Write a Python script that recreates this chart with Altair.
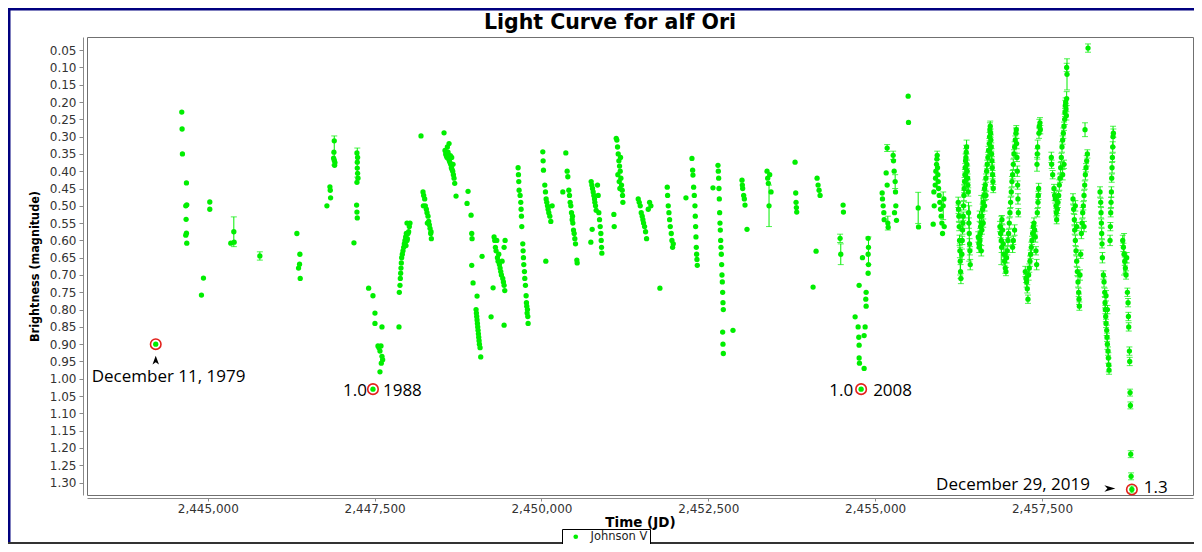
import altair as alt
import pandas as pd

# ---------------- data ----------------
TITLE = "Light Curve for alf Ori"
SERIES = "Johnson V"
X_TICKS = [2445000, 2447500, 2450000, 2452500, 2455000, 2457500]
Y_TICKS = [0.05, 0.10, 0.15, 0.20, 0.25, 0.30, 0.35, 0.40, 0.45, 0.50, 0.55, 0.60,
           0.65, 0.70, 0.75, 0.80, 0.85, 0.90, 0.95, 1.00, 1.05, 1.10, 1.15, 1.20,
           1.25, 1.30]

# (JD, magnitude) observations without visible error bars
S_1979_1985 = [
    (2444220, 0.900),
    (2444610, 0.229), (2444615, 0.278), (2444620, 0.350), (2444680, 0.434),
    (2444670, 0.500), (2444685, 0.497), (2444675, 0.539), (2444680, 0.579),
    (2444670, 0.585), (2444685, 0.608),
    (2444935, 0.709), (2444905, 0.758), (2445030, 0.489), (2445030, 0.510),
    (2445345, 0.608), (2445390, 0.575), (2445395, 0.605), (2445780, 0.645),
    (2446335, 0.580), (2446380, 0.640), (2446375, 0.669), (2446360, 0.680),
    (2446385, 0.710),
]
S_1986_1990 = [
    (2446785, 0.500), (2446830, 0.445), (2446835, 0.455), (2446840, 0.477),
    (2446895, 0.312), (2446890, 0.345), (2446895, 0.368), (2446900, 0.383),
    (2446905, 0.375), (2446885, 0.362),
    (2447190, 0.607), (2447235, 0.347), (2447240, 0.374), (2447240, 0.391),
    (2447245, 0.406), (2447235, 0.432), (2447245, 0.360), (2447250, 0.420),
    (2447230, 0.498), (2447235, 0.518), (2447240, 0.535),
    (2447410, 0.738), (2447475, 0.760), (2447505, 0.810), (2447505, 0.840),
    (2447610, 0.850), (2447550, 0.905), (2447565, 0.910), (2447580, 0.920),
    (2447595, 0.905), (2447610, 0.935), (2447620, 0.945), (2447600, 0.955),
    (2447580, 0.980), (2447475, 1.030),
    (2447865, 0.850), (2447870, 0.750), (2447880, 0.730), (2447885, 0.710),
    (2447890, 0.695), (2447895, 0.680), (2447900, 0.665), (2447905, 0.650),
    (2447915, 0.640), (2447925, 0.630), (2447935, 0.620), (2447945, 0.610),
    (2447955, 0.600), (2447965, 0.590), (2447975, 0.580), (2447990, 0.595),
    (2448000, 0.580), (2448010, 0.575), (2448020, 0.560), (2448030, 0.550),
    (2447960, 0.605), (2447970, 0.615), (2447985, 0.600), (2447985, 0.550),
]
S_1991_1994 = [
    (2448195, 0.298),
    (2448225, 0.460), (2448235, 0.470), (2448250, 0.480), (2448260, 0.500),
    (2448275, 0.510), (2448285, 0.520), (2448300, 0.530), (2448310, 0.545),
    (2448320, 0.555), (2448330, 0.565), (2448340, 0.580), (2448350, 0.595),
    (2448230, 0.500), (2448290, 0.550), (2448345, 0.575),
    (2448540, 0.289),
    (2448555, 0.340), (2448565, 0.350), (2448575, 0.355), (2448585, 0.360),
    (2448590, 0.330), (2448600, 0.345), (2448610, 0.365), (2448620, 0.370),
    (2448630, 0.375), (2448640, 0.380), (2448650, 0.390), (2448660, 0.395),
    (2448670, 0.400), (2448680, 0.410), (2448690, 0.420), (2448700, 0.435),
    (2448720, 0.472), (2448615, 0.320), (2448635, 0.355), (2448655, 0.360),
    (2448675, 0.380),
    (2448900, 0.458), (2448885, 0.493), (2448945, 0.527), (2448955, 0.580),
    (2448960, 0.595), (2448955, 0.672), (2448975, 0.723), (2449035, 0.761),
    (2449020, 0.800), (2449025, 0.810), (2449030, 0.820), (2449035, 0.830),
    (2449040, 0.840), (2449045, 0.850), (2449050, 0.860), (2449055, 0.870),
    (2449060, 0.880), (2449065, 0.890), (2449070, 0.900), (2449080, 0.910),
    (2449090, 0.937), (2449110, 0.646), (2449245, 0.821),
    (2449290, 0.590), (2449300, 0.600), (2449310, 0.620), (2449320, 0.630),
    (2449330, 0.600), (2449340, 0.650), (2449350, 0.660), (2449360, 0.640),
    (2449370, 0.670), (2449380, 0.680), (2449390, 0.690), (2449400, 0.700),
    (2449410, 0.660), (2449420, 0.710), (2449430, 0.720), (2449440, 0.730),
    (2449450, 0.745), (2449275, 0.737), (2449440, 0.620), (2449455, 0.600),
    (2449440, 0.845),
]
S_1994_1999 = [
    (2449650, 0.390), (2449655, 0.410), (2449660, 0.430), (2449665, 0.455),
    (2449680, 0.470), (2449690, 0.490), (2449695, 0.510), (2449700, 0.530),
    (2449705, 0.560), (2449720, 0.610), (2449725, 0.630), (2449730, 0.650),
    (2449735, 0.670), (2449745, 0.690), (2449750, 0.710), (2449760, 0.730),
    (2449770, 0.760), (2449775, 0.780), (2449780, 0.790), (2449790, 0.800),
    (2449795, 0.820), (2449800, 0.840), (2449785, 0.810),
    (2450020, 0.344), (2450025, 0.370), (2450030, 0.397), (2450050, 0.440),
    (2450060, 0.460), (2450070, 0.480), (2450080, 0.490), (2450090, 0.500),
    (2450100, 0.510), (2450110, 0.520), (2450125, 0.530), (2450140, 0.545),
    (2450160, 0.500), (2450065, 0.660),
    (2450365, 0.347), (2450385, 0.400), (2450395, 0.416), (2450320, 0.460),
    (2450410, 0.455), (2450420, 0.470), (2450430, 0.490), (2450440, 0.500),
    (2450450, 0.520), (2450460, 0.540), (2450470, 0.550), (2450480, 0.570),
    (2450490, 0.580), (2450500, 0.595), (2450510, 0.610), (2450530, 0.657),
    (2450535, 0.665), (2450465, 0.530),
    (2450745, 0.430), (2450755, 0.440), (2450765, 0.450), (2450775, 0.460),
    (2450785, 0.470), (2450795, 0.480), (2450800, 0.490), (2450810, 0.500),
    (2450820, 0.513), (2450760, 0.568), (2450740, 0.605), (2450860, 0.520),
    (2450870, 0.540), (2450880, 0.560), (2450890, 0.580), (2450895, 0.600),
    (2450900, 0.620), (2450905, 0.637), (2450850, 0.470), (2450840, 0.440),
    (2451085, 0.525), (2451090, 0.560), (2451120, 0.305), (2451130, 0.310),
    (2451140, 0.330), (2451150, 0.350), (2451160, 0.370), (2451170, 0.385),
    (2451180, 0.400), (2451190, 0.420), (2451200, 0.440), (2451210, 0.455),
    (2451215, 0.470), (2451220, 0.490), (2451145, 0.410), (2451165, 0.430),
    (2451185, 0.360), (2451175, 0.450),
]
S_2000_2006 = [
    (2451450, 0.480), (2451465, 0.490), (2451480, 0.500), (2451495, 0.520),
    (2451510, 0.530), (2451520, 0.540), (2451530, 0.550), (2451545, 0.560),
    (2451560, 0.575), (2451575, 0.595), (2451600, 0.510), (2451620, 0.490),
    (2451640, 0.500), (2451775, 0.738),
    (2451885, 0.446), (2451890, 0.470), (2451900, 0.500), (2451910, 0.520),
    (2451920, 0.540), (2451930, 0.560), (2451945, 0.580), (2451955, 0.600),
    (2451965, 0.620), (2451975, 0.610),
    (2452165, 0.477), (2452255, 0.363), (2452265, 0.397), (2452270, 0.411),
    (2452280, 0.446), (2452290, 0.470), (2452300, 0.500), (2452305, 0.530),
    (2452310, 0.560), (2452315, 0.590), (2452320, 0.620), (2452325, 0.640),
    (2452330, 0.655), (2452335, 0.672),
    (2452570, 0.448), (2452645, 0.383), (2452650, 0.400), (2452655, 0.420),
    (2452660, 0.450), (2452665, 0.480), (2452670, 0.520), (2452675, 0.550),
    (2452680, 0.570), (2452685, 0.600), (2452690, 0.620), (2452695, 0.640),
    (2452700, 0.670), (2452705, 0.700), (2452710, 0.720), (2452715, 0.750),
    (2452720, 0.780), (2452725, 0.800), (2452715, 0.865), (2452720, 0.900),
    (2452725, 0.927), (2452870, 0.860),
    (2453005, 0.426), (2453010, 0.440), (2453015, 0.450), (2453030, 0.470),
    (2453040, 0.480), (2453050, 0.498), (2453080, 0.568),
    (2453380, 0.400), (2453390, 0.420), (2453400, 0.435), (2453420, 0.410),
    (2453440, 0.460), (2453410, 0.500),
    (2453800, 0.374), (2453810, 0.463), (2453815, 0.490), (2453820, 0.505),
    (2453825, 0.518),
]
S_2007_2012 = [
    (2454130, 0.420), (2454145, 0.440), (2454160, 0.455), (2454175, 0.470),
    (2454115, 0.631), (2454070, 0.735),
    (2454520, 0.498), (2454525, 0.518), (2454475, 0.594), (2454485, 0.640),
    (2454700, 0.821), (2454745, 0.850), (2454755, 0.880), (2454760, 0.730),
    (2454760, 0.903), (2454760, 0.940), (2454765, 0.955), (2454835, 0.970),
    (2454850, 0.850), (2454835, 0.875), (2454865, 0.750), (2454860, 0.770),
    (2454865, 0.790), (2454895, 0.594), (2454900, 0.620), (2454895, 0.640),
    (2454810, 0.650), (2454900, 0.670), (2454895, 0.695), (2454790, 1.030),
    (2455105, 0.463), (2455110, 0.480), (2455120, 0.500), (2455130, 0.520),
    (2455135, 0.540), (2455180, 0.333), (2455165, 0.405), (2455180, 0.440),
    (2455190, 0.550), (2455195, 0.562), (2455270, 0.354), (2455275, 0.370),
    (2455285, 0.400), (2455300, 0.430), (2455305, 0.460), (2455310, 0.500),
    (2455320, 0.542), (2455290, 0.520),
    (2455495, 0.183), (2455500, 0.259), (2455645, 0.506), (2455650, 0.561),
    (2455870, 0.553), (2455880, 0.460), (2455885, 0.500), (2455900, 0.440),
    (2455905, 0.420), (2455910, 0.400), (2455920, 0.380), (2455925, 0.365),
    (2455930, 0.354), (2455935, 0.390), (2455940, 0.410), (2455945, 0.430),
    (2455950, 0.450), (2455960, 0.470), (2455970, 0.490), (2455980, 0.510),
    (2455990, 0.530), (2456000, 0.550), (2456010, 0.580), (2456020, 0.500),
    (2456030, 0.480), (2456035, 0.560),
]

# (JD, magnitude, error) dense recent seasons, each with small error bars
S_2013_2015 = [
    (2456245, 0.49, 0.015), (2456250, 0.51, 0.012), (2456255, 0.53, 0.015),
    (2456260, 0.56, 0.012), (2456265, 0.60, 0.015), (2456270, 0.63, 0.020),
    (2456275, 0.66, 0.040), (2456280, 0.69, 0.020), (2456285, 0.71, 0.015),
    (2456300, 0.64, 0.015), (2456305, 0.60, 0.012), (2456310, 0.57, 0.012),
    (2456315, 0.55, 0.015), (2456320, 0.53, 0.012), (2456325, 0.50, 0.012),
    (2456330, 0.47, 0.015), (2456335, 0.45, 0.012), (2456340, 0.43, 0.012),
    (2456345, 0.41, 0.015), (2456350, 0.39, 0.012), (2456355, 0.37, 0.020),
    (2456360, 0.36, 0.025), (2456365, 0.345, 0.020), (2456370, 0.33, 0.020),
    (2456375, 0.38, 0.012), (2456380, 0.40, 0.015), (2456385, 0.42, 0.012),
    (2456390, 0.44, 0.015), (2456395, 0.46, 0.012), (2456400, 0.52, 0.030),
    (2456405, 0.55, 0.015), (2456410, 0.58, 0.080), (2456415, 0.61, 0.015),
    (2456420, 0.63, 0.012), (2456425, 0.67, 0.015),
    (2456545, 0.59, 0.015), (2456555, 0.61, 0.012), (2456560, 0.62, 0.015),
    (2456570, 0.60, 0.012), (2456575, 0.58, 0.015), (2456580, 0.56, 0.012),
    (2456590, 0.55, 0.080), (2456600, 0.53, 0.012), (2456610, 0.51, 0.015),
    (2456620, 0.49, 0.012), (2456630, 0.47, 0.015), (2456640, 0.45, 0.012),
    (2456650, 0.44, 0.015), (2456660, 0.42, 0.012), (2456670, 0.40, 0.015),
    (2456680, 0.38, 0.012), (2456690, 0.36, 0.015), (2456700, 0.34, 0.012),
    (2456710, 0.32, 0.015), (2456715, 0.30, 0.012), (2456720, 0.28, 0.020),
    (2456725, 0.27, 0.015), (2456730, 0.29, 0.012), (2456735, 0.31, 0.015),
    (2456740, 0.33, 0.012), (2456745, 0.35, 0.015), (2456750, 0.37, 0.012),
    (2456755, 0.39, 0.015), (2456760, 0.41, 0.012), (2456765, 0.43, 0.015),
    (2456770, 0.45, 0.012), (2456590, 0.63, 0.015), (2456600, 0.57, 0.012),
    (2456565, 0.53, 0.015), (2456620, 0.55, 0.012), (2456640, 0.50, 0.015),
    (2456660, 0.47, 0.012),
    (2456870, 0.56, 0.015), (2456880, 0.58, 0.012), (2456890, 0.60, 0.070),
    (2456895, 0.62, 0.015), (2456900, 0.54, 0.012), (2456910, 0.57, 0.015),
    (2456920, 0.61, 0.012), (2456930, 0.64, 0.015), (2456940, 0.66, 0.012),
    (2456950, 0.68, 0.015), (2456960, 0.69, 0.012), (2456970, 0.65, 0.015),
    (2456980, 0.63, 0.012), (2456990, 0.60, 0.015), (2457000, 0.58, 0.012),
    (2457010, 0.55, 0.015), (2457020, 0.52, 0.012), (2457030, 0.49, 0.015),
    (2457040, 0.46, 0.012), (2457050, 0.43, 0.015), (2457060, 0.41, 0.012),
    (2457070, 0.38, 0.015), (2457080, 0.35, 0.012), (2457090, 0.33, 0.015),
    (2457100, 0.31, 0.012), (2457110, 0.29, 0.015), (2457115, 0.28, 0.012),
    (2457120, 0.32, 0.015), (2457125, 0.36, 0.012), (2457130, 0.40, 0.015),
    (2457135, 0.44, 0.012), (2457140, 0.48, 0.015), (2457145, 0.52, 0.012),
    (2457090, 0.57, 0.015), (2457070, 0.60, 0.012), (2457060, 0.62, 0.015),
]
S_2016_2019 = [
    (2457250, 0.69, 0.015), (2457260, 0.71, 0.012), (2457270, 0.72, 0.015),
    (2457280, 0.74, 0.012), (2457290, 0.77, 0.012), (2457300, 0.70, 0.015),
    (2457310, 0.68, 0.012), (2457320, 0.66, 0.015), (2457330, 0.64, 0.012),
    (2457340, 0.62, 0.015), (2457350, 0.60, 0.012), (2457360, 0.58, 0.015),
    (2457370, 0.56, 0.012), (2457380, 0.55, 0.015), (2457390, 0.57, 0.012),
    (2457400, 0.59, 0.015), (2457410, 0.63, 0.012), (2457420, 0.67, 0.015),
    (2457430, 0.52, 0.012), (2457440, 0.49, 0.015), (2457445, 0.47, 0.012),
    (2457450, 0.45, 0.015), (2457425, 0.38, 0.020), (2457430, 0.35, 0.015),
    (2457435, 0.33, 0.020), (2457455, 0.29, 0.015), (2457460, 0.27, 0.020),
    (2457470, 0.26, 0.015), (2457475, 0.28, 0.012),
    (2457640, 0.36, 0.015), (2457645, 0.38, 0.012), (2457660, 0.41, 0.012),
    (2457680, 0.45, 0.012), (2457690, 0.47, 0.015), (2457700, 0.48, 0.012),
    (2457710, 0.50, 0.015), (2457715, 0.52, 0.012), (2457720, 0.54, 0.012),
    (2457730, 0.51, 0.012), (2457740, 0.49, 0.015), (2457750, 0.47, 0.012),
    (2457760, 0.44, 0.015), (2457770, 0.42, 0.012), (2457780, 0.39, 0.015),
    (2457790, 0.36, 0.012), (2457800, 0.33, 0.015), (2457810, 0.31, 0.012),
    (2457820, 0.29, 0.015), (2457830, 0.27, 0.012), (2457840, 0.25, 0.015),
    (2457845, 0.23, 0.012), (2457850, 0.21, 0.015), (2457855, 0.20, 0.012),
    (2457860, 0.22, 0.015), (2457865, 0.24, 0.012), (2457870, 0.19, 0.020),
    (2457875, 0.12, 0.045), (2457870, 0.10, 0.012), (2457830, 0.38, 0.012),
    (2457810, 0.41, 0.015),
    (2457965, 0.48, 0.015), (2457975, 0.51, 0.012), (2457985, 0.54, 0.015),
    (2457990, 0.57, 0.012), (2458000, 0.60, 0.015), (2458010, 0.63, 0.012),
    (2458020, 0.66, 0.015), (2458030, 0.69, 0.012), (2458040, 0.72, 0.015),
    (2458050, 0.75, 0.012), (2458055, 0.77, 0.015), (2458060, 0.79, 0.012),
    (2458070, 0.70, 0.015), (2458080, 0.64, 0.012), (2458090, 0.58, 0.015),
    (2458100, 0.55, 0.012), (2458110, 0.52, 0.015), (2458120, 0.50, 0.012),
    (2458130, 0.47, 0.015), (2458140, 0.44, 0.012), (2458150, 0.41, 0.015),
    (2458160, 0.39, 0.012), (2458170, 0.37, 0.015), (2458180, 0.35, 0.012),
    (2458145, 0.28, 0.020), (2458190, 0.044, 0.012), (2458000, 0.50, 0.015),
    (2458020, 0.56, 0.012), (2458130, 0.56, 0.015),
    (2458370, 0.46, 0.015), (2458380, 0.49, 0.012), (2458385, 0.52, 0.015),
    (2458390, 0.55, 0.012), (2458395, 0.58, 0.015), (2458400, 0.61, 0.012),
    (2458405, 0.65, 0.015), (2458420, 0.70, 0.012), (2458430, 0.72, 0.015),
    (2458440, 0.75, 0.012), (2458445, 0.78, 0.015), (2458450, 0.80, 0.012),
    (2458455, 0.82, 0.015), (2458460, 0.84, 0.012), (2458470, 0.86, 0.015),
    (2458475, 0.88, 0.012), (2458480, 0.90, 0.015), (2458490, 0.92, 0.012),
    (2458495, 0.94, 0.015), (2458500, 0.96, 0.020), (2458505, 0.975, 0.012),
    (2458520, 0.60, 0.015), (2458530, 0.52, 0.012), (2458540, 0.46, 0.015),
    (2458545, 0.42, 0.012), (2458550, 0.39, 0.015), (2458555, 0.36, 0.012),
    (2458560, 0.33, 0.015), (2458565, 0.30, 0.030), (2458570, 0.29, 0.012),
    (2458535, 0.49, 0.015), (2458525, 0.56, 0.012), (2458460, 0.76, 0.015),
    (2458480, 0.80, 0.012),
    (2458710, 0.60, 0.015), (2458720, 0.62, 0.012), (2458730, 0.64, 0.060),
    (2458740, 0.66, 0.012), (2458750, 0.68, 0.015), (2458760, 0.70, 0.012),
    (2458770, 0.65, 0.015), (2458780, 0.75, 0.012), (2458790, 0.78, 0.012),
    (2458795, 0.82, 0.012), (2458800, 0.85, 0.012), (2458810, 0.92, 0.012),
    (2458815, 0.95, 0.012), (2458820, 1.04, 0.010), (2458825, 1.077, 0.010),
    (2458830, 1.218, 0.010), (2458835, 1.282, 0.010), (2458847, 1.320, 0.010),
]

# error bars on the older seasons (JD, magnitude, error)
OLD_ERRORS = [
    (2445390, 0.575, 0.043), (2445780, 0.645, 0.012), (2446895, 0.340, 0.042),
    (2447240, 0.375, 0.042), (2453410, 0.500, 0.060), (2454475, 0.594, 0.012),
    (2454485, 0.640, 0.030), (2454900, 0.630, 0.040), (2455180, 0.333, 0.010),
    (2455190, 0.550, 0.020), (2455270, 0.354, 0.012), (2455300, 0.430, 0.020),
    (2455645, 0.506, 0.045), (2455930, 0.354, 0.012), (2456020, 0.500, 0.040),
]

# annotated points and their labels
MARK_JD = [2444220, 2447475, 2454790, 2458847]
MARK_MAG = [0.90, 1.03, 1.03, 1.32]
LABELS = ["December 11, 1979", "1.0", "1988", "1.0", "2008",
          "December 29, 2019", "1.3"]
LABEL_POINT = [0, 1, 1, 2, 2, 3, 3]

# ---------------- build tables ----------------
plain = S_1979_1985 + S_1986_1990 + S_1991_1994 + S_1994_1999 + S_2000_2006 + S_2007_2012
dense = S_2013_2015 + S_2016_2019
pts = pd.DataFrame(plain + [(j, m) for j, m, e in dense], columns=["jd", "mag"])
pts["series"] = SERIES
errs = pd.DataFrame(OLD_ERRORS + dense, columns=["jd", "mag", "err"])
errs["lo"] = errs["mag"] - errs["err"]
errs["hi"] = errs["mag"] + errs["err"]
marks = pd.DataFrame({"jd": MARK_JD, "mag": MARK_MAG})
labels = pd.DataFrame({"jd": [MARK_JD[i] for i in LABEL_POINT],
                       "mag": [MARK_MAG[i] for i in LABEL_POINT],
                       "text": LABELS})
title_df = pd.DataFrame({"text": [TITLE]})
one = pd.DataFrame({"k": [0]})

GREEN = "#00ee00"
NAVY = "#00007f"

xscale = alt.Scale(domain=[2443190, 2459763], nice=False, zero=False)
yscale = alt.Scale(domain=[0.012, 1.336], reverse=True, nice=False, zero=False)
xaxis = alt.Axis(values=X_TICKS, format=",d", title="Time (JD)", offset=3,
                 grid=False, tickSize=3, labelPadding=2, titlePadding=1,
                 titleFont="DejaVu Sans", titleFontSize=13.5, titleFontWeight="bold")
yaxis = alt.Axis(values=Y_TICKS, format=".2f", title="Brightness (magnitude)",
                 offset=4, grid=False, tickSize=4, labelPadding=3, titlePadding=8,
                 titleFont="DejaVu Sans Condensed, Liberation Sans, sans-serif",
                 titleFontSize=12.5, titleFontWeight="bold")


def X(field="jd"):
    return alt.X(f"{field}:Q", scale=xscale, axis=xaxis)


def Y(field="mag"):
    return alt.Y(f"{field}:Q", scale=yscale, axis=yaxis)


bars = alt.Chart(errs).mark_rule(color=GREEN, strokeWidth=1).encode(
    x=X(), y=Y("lo"), y2="hi:Q")
cap_lo = alt.Chart(errs).mark_tick(color=GREEN, orient="horizontal", size=6,
                                   thickness=1).encode(x=X(), y=Y("lo"))
cap_hi = alt.Chart(errs).mark_tick(color=GREEN, orient="horizontal", size=6,
                                   thickness=1).encode(x=X(), y=Y("hi"))

points = alt.Chart(pts).mark_circle(size=28, opacity=1).encode(
    x=X(), y=Y(),
    color=alt.Color("series:N", scale=alt.Scale(range=[GREEN]),
                    legend=alt.Legend(title=None, orient="none", legendX=475,
                                      legendY=492, strokeColor="black",
                                      fillColor="white", padding=2,
                                      symbolType="circle", symbolSize=22,
                                      symbolOffset=6, labelOffset=9,
                                      labelFont="DejaVu Sans", labelFontSize=11.5,
                                      labelColor="#222")))

rings = alt.Chart(marks).mark_point(shape="circle", size=110, filled=False,
                                    color="#e3201b", strokeWidth=1.6,
                                    opacity=1).encode(x=X(), y=Y())


def label(i, dx, dy, align):
    return alt.Chart(labels.iloc[[i]]).mark_text(
        dx=dx, dy=dy, align=align, baseline="alphabetic", font="Open Sans",
        fontSize=17, color="black").encode(x=X(), y=Y(), text="text:N")


texts = [
    label(0, -64, 38, "left"),
    label(1, -6, 7, "right"), label(2, 10, 7, "left"),
    label(3, -8, 7, "right"), label(4, 12, 7, "left"),
    label(5, -42, 1, "right"), label(6, 12, 4, "left"),
]

arrow_up = alt.Chart(marks.iloc[[0]]).mark_point(
    shape="M0,-1L0.75,1L0,0.45L-0.75,1Z", size=75, filled=True, color="black",
    opacity=1, yOffset=16).encode(x=X(), y=Y())
arrow_right = alt.Chart(marks.iloc[[3]]).mark_point(
    shape="M1,0L-1,-0.6L-0.45,0L-1,0.6Z", size=120, filled=True, color="black",
    opacity=1, xOffset=-22, yOffset=-1).encode(x=X(), y=Y())

title = alt.Chart(title_df).mark_text(
    font="DejaVu Sans", fontSize=20.5, fontWeight="bold", color="black",
    align="center", baseline="alphabetic", clip=False).encode(
    x=alt.value(523), y=alt.value(-8), text="text:N")

frame_top = alt.Chart(one).mark_rule(color=NAVY, strokeWidth=3, clip=False).encode(
    x=alt.value(-79), x2=alt.value(1110), y=alt.value(-28))
frame_left = alt.Chart(one).mark_rule(color=NAVY, strokeWidth=3, clip=False).encode(
    x=alt.value(-78), y=alt.value(-29), y2=alt.value(507))
frame_bottom = alt.Chart(one).mark_rule(color="#333333", strokeWidth=2, clip=False).encode(
    x=alt.value(-79), x2=alt.value(1110), y=alt.value(506))

chart = alt.layer(
    bars, cap_lo, cap_hi, points, rings, arrow_up, arrow_right, *texts,
    title, frame_top, frame_left, frame_bottom,
).properties(
    width=1106, height=458,
    padding={"left": 79, "top": 29, "right": 1, "bottom": 49},
    autosize=alt.AutoSizeParams(type="none"),
    background="white",
).configure_view(
    stroke="#707070", strokeWidth=1
).configure_axis(
    grid=False, domainColor="#8a8a8a", tickColor="#8a8a8a",
    labelFont="DejaVu Sans", labelFontSize=12, labelColor="#333333",
    titleColor="black",
)

chart.save("out.html", embed_options={"renderer": "svg", "actions": False})
